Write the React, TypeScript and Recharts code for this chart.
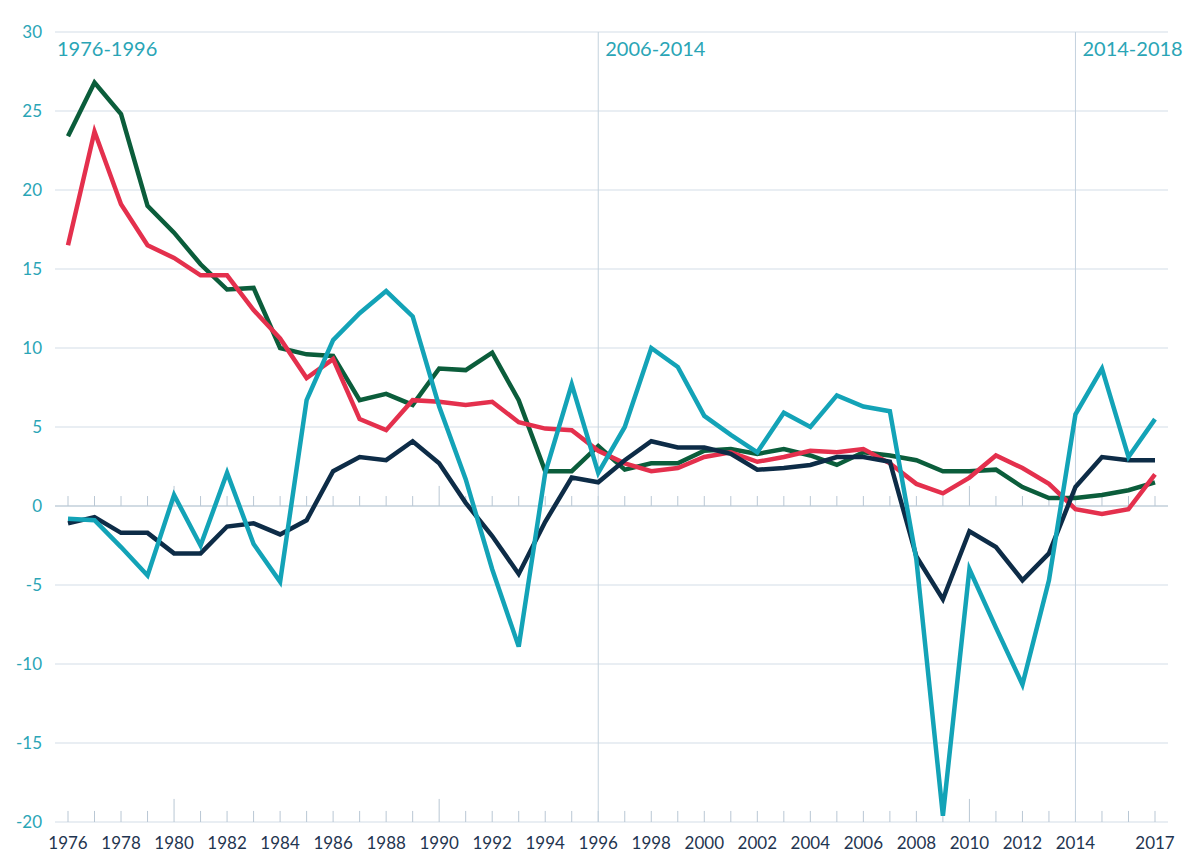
import React from "react";
import {
  LineChart,
  Line,
  XAxis,
  YAxis,
  CartesianGrid,
  ReferenceLine,
} from "recharts";

const years = [
  1976, 1977, 1978, 1979, 1980, 1981, 1982, 1983, 1984, 1985, 1986, 1987, 1988, 1989,
  1990, 1991, 1992, 1993, 1994, 1995, 1996, 1997, 1998, 1999, 2000, 2001, 2002, 2003,
  2004, 2005, 2006, 2007, 2008, 2009, 2010, 2011, 2012, 2013, 2014, 2015, 2016, 2017,
];

const labelledYears = [
  1976, 1978, 1980, 1982, 1984, 1986, 1988, 1990, 1992, 1994, 1996, 1998, 2000, 2002,
  2004, 2006, 2008, 2010, 2012, 2014, 2017,
];
const longTickYears = [1980, 1990, 2010];
const yTicks = [-20, -15, -10, -5, 0, 5, 10, 15, 20, 25, 30];

const greenSeries = [
  23.4, 26.8, 24.8, 19.0, 17.3, 15.3, 13.7, 13.8, 10.0, 9.6, 9.5, 6.7, 7.1, 6.4,
  8.7, 8.6, 9.7, 6.7, 2.2, 2.2, 3.8, 2.3, 2.7, 2.7, 3.5, 3.6, 3.3, 3.6,
  3.2, 2.6, 3.4, 3.2, 2.9, 2.2, 2.2, 2.3, 1.2, 0.5, 0.5, 0.7, 1.0, 1.5,
];
const redSeries = [
  16.5, 23.7, 19.1, 16.5, 15.7, 14.6, 14.6, 12.4, 10.6, 8.1, 9.3, 5.5, 4.8, 6.7,
  6.6, 6.4, 6.6, 5.3, 4.9, 4.8, 3.5, 2.7, 2.2, 2.4, 3.1, 3.4, 2.8, 3.1,
  3.5, 3.4, 3.6, 2.7, 1.4, 0.8, 1.8, 3.2, 2.4, 1.4, -0.2, -0.5, -0.2, 2.0,
];
const navySeries = [
  -1.1, -0.7, -1.7, -1.7, -3.0, -3.0, -1.3, -1.1, -1.8, -0.9, 2.2, 3.1, 2.9, 4.1,
  2.7, 0.2, -1.9, -4.3, -1.0, 1.8, 1.5, 2.9, 4.1, 3.7, 3.7, 3.3, 2.3, 2.4,
  2.6, 3.1, 3.1, 2.8, -3.2, -5.9, -1.6, -2.6, -4.7, -3.0, 1.2, 3.1, 2.9, 2.9,
];
const tealSeries = [
  -0.8, -0.9, -2.6, -4.4, 0.7, -2.5, 2.1, -2.4, -4.8, 6.7, 10.5, 12.2, 13.6, 12.0,
  6.3, 1.7, -4.0, -8.9, 2.1, 7.7, 2.1, 5.0, 10.0, 8.8, 5.7, 4.5, 3.4, 5.9,
  5.0, 7.0, 6.3, 6.0, -3.4, -19.6, -4.0, -7.7, -11.3, -4.7, 5.8, 8.7, 3.1, 5.5,
];

const periodYears = [1976, 1996, 2014];
const periodLabels = ["1976-1996", "2006-2014", "2014-2018"];

const data = years.map((year, i) => ({
  year,
  green: greenSeries[i],
  red: redSeries[i],
  navy: navySeries[i],
  teal: tealSeries[i],
}));

const FONT = "Lato, 'Open Sans', sans-serif";
const GRID = "#d3dde7";
const AXIS = "#b9c7d4";
const LABEL_TEAL = "#2aa5b6";

const XTick = (props: any) => {
  const { x, y, payload } = props;
  if (!labelledYears.includes(payload.value)) return <g />;
  return (
    <text
      x={x}
      y={y}
      dy="0.71em"
      textAnchor="middle"
      fill="#1f3550"
      fontSize={17}
      fontFamily={FONT}
    >
      {payload.value}
    </text>
  );
};

const periodLabel = (text: string, dx: number) => (props: any) => {
  const vb = props.viewBox || {};
  return (
    <text x={vb.x + dx} y={vb.y + 24} fill={LABEL_TEAL} fontSize={20} fontFamily={FONT}>
      {text}
    </text>
  );
};

export default function App() {
  return (
    <LineChart
      width={1184}
      height={859}
      data={data}
      margin={{ top: 24, right: 24, left: 0, bottom: 0 }}
    >
      <CartesianGrid vertical={false} stroke={GRID} strokeWidth={1} />
      <XAxis
        dataKey="year"
        type="number"
        domain={[1976, 2017]}
        ticks={years}
        interval={0}
        padding={{ left: 13, right: 13 }}
        axisLine={false}
        tickLine={false}
        tickSize={0}
        tickMargin={15}
        height={45}
        tick={<XTick />}
      />
      <YAxis
        domain={[-20, 30]}
        ticks={yTicks}
        interval={0}
        axisLine={false}
        tickLine={false}
        tickSize={0}
        tickMargin={13}
        width={47}
        tick={{ fill: LABEL_TEAL, fontSize: 17, fontFamily: FONT }}
      />

      <ReferenceLine y={0} stroke={AXIS} strokeWidth={1.2} />
      {years.map((yr) => (
        <ReferenceLine
          key={`zt-${yr}`}
          segment={[
            { x: yr, y: 0 },
            { x: yr, y: longTickYears.includes(yr) ? 1.27 : 0.63 },
          ]}
          stroke={AXIS}
          strokeWidth={1}
        />
      ))}
      {years.map((yr) => (
        <ReferenceLine
          key={`bt-${yr}`}
          segment={[
            { x: yr, y: -20 },
            { x: yr, y: longTickYears.includes(yr) ? -18.54 : -19.3 },
          ]}
          stroke={AXIS}
          strokeWidth={1}
        />
      ))}
      {periodYears.map((yr, i) => (
        <ReferenceLine
          key={`p-${yr}`}
          x={yr}
          stroke={i === 0 ? "none" : "#c4d2de"}
          strokeWidth={1}
          label={{ content: periodLabel(periodLabels[i], i === 0 ? -11 : 7) }}
        />
      ))}

      <Line dataKey="green" stroke="#0b5d3b" strokeWidth={4.5} dot={false} isAnimationActive={false} />
      <Line dataKey="red" stroke="#e4304d" strokeWidth={4.5} dot={false} isAnimationActive={false} />
      <Line dataKey="navy" stroke="#0d2c47" strokeWidth={4.5} dot={false} isAnimationActive={false} />
      <Line dataKey="teal" stroke="#13a3b7" strokeWidth={4.5} dot={false} isAnimationActive={false} />
    </LineChart>
  );
}
